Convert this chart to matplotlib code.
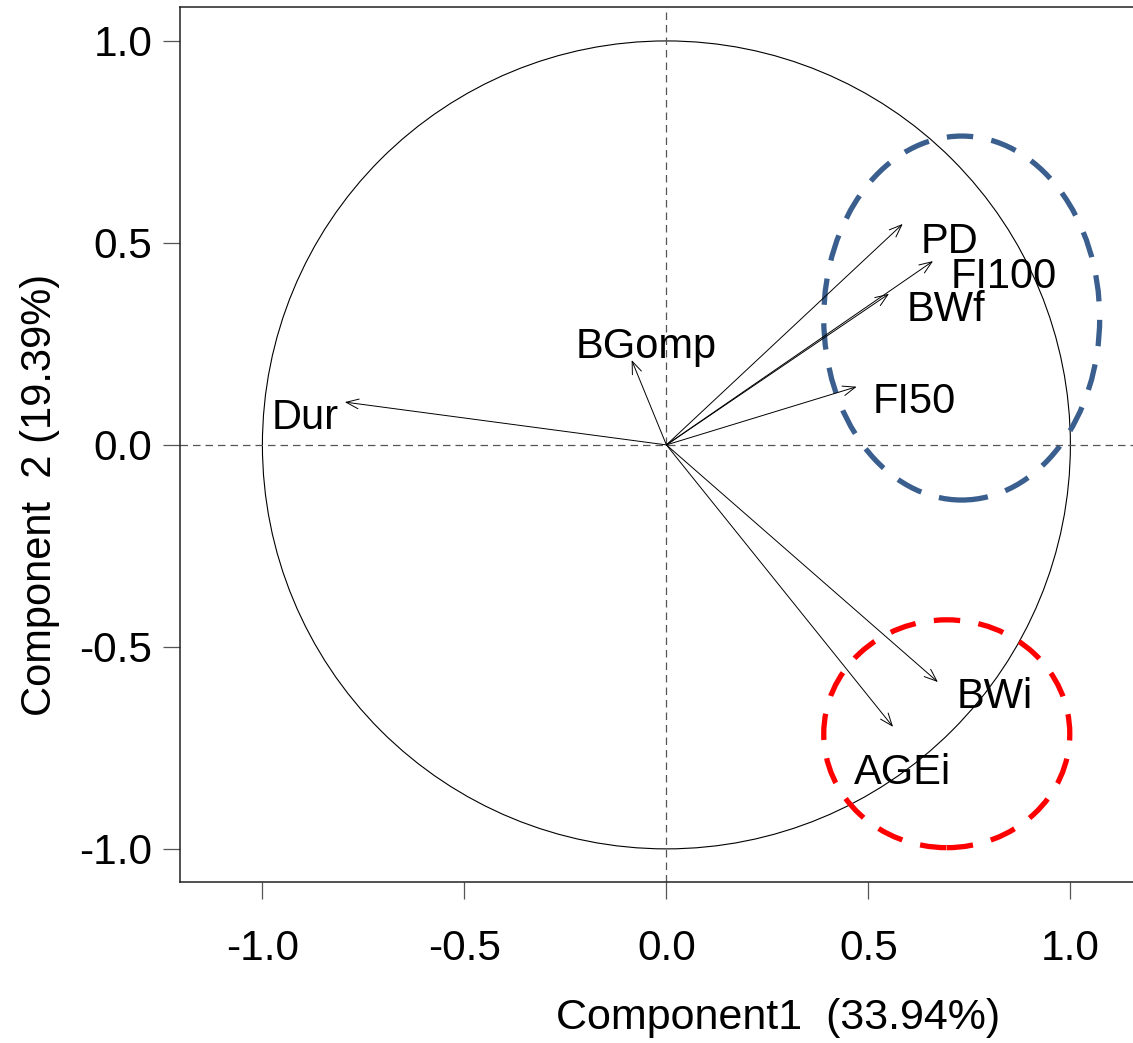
import numpy as np
import matplotlib
matplotlib.use("Agg")
import matplotlib.pyplot as plt
from matplotlib.patches import Ellipse, Circle

plt.rcParams['font.family'] = ['Liberation Sans', 'DejaVu Sans']

# ---- data ----
variables = ["Dur", "BGomp", "PD", "FI100", "BWf", "FI50", "BWi", "AGEi"]
comp1 = [-0.796, -0.086, 0.585, 0.660, 0.551, 0.471, 0.672, 0.561]
comp2 = [0.106, 0.210, 0.547, 0.455, 0.374, 0.144, -0.587, -0.698]
label_x = [-0.895, -0.051, 0.700, 0.834, 0.693, 0.614, 0.812, 0.584]
label_y = [0.067, 0.243, 0.502, 0.416, 0.334, 0.106, -0.624, -0.812]
ticks = [-1.0, -0.5, 0.0, 0.5, 1.0]
tick_labels = ["-1.0", "-0.5", "0.0", "0.5", "1.0"]
xlabel = "Component1  (33.94%)"
ylabel = "Component  2 (19.39%)"
# group ellipses: centre x, centre y, width, height
blue_group = (0.731, 0.314, 0.683, 0.901)
red_group = (0.694, -0.715, 0.609, 0.564)

W, H = 1133, 1043
fig = plt.figure(figsize=(W / 100, H / 100), dpi=100)
x0, x1 = -1.204, 1.155
y0, y1 = -1.082, 1.084
ax = fig.add_axes([180 / W, (H - 882) / H, (W - 180) / W, (882 - 7) / H])
ax.set_xlim(x0, x1)
ax.set_ylim(y0, y1)

for s in ['left', 'bottom', 'top']:
    ax.spines[s].set_color('#222222')
    ax.spines[s].set_linewidth(1.1)
ax.spines['right'].set_visible(False)

ax.set_xticks(ticks)
ax.set_xticklabels(tick_labels)
ax.set_yticks(ticks)
ax.set_yticklabels(tick_labels)
ax.tick_params(axis='both', direction='out', length=12, width=0.9, color='#555555',
               labelsize=30.5)
ax.tick_params(axis='x', pad=22)
ax.tick_params(axis='y', pad=8)

# reference lines
ax.axhline(0, color='#555555', lw=0.9, ls=(0, (6, 4)))
ax.axvline(0, color='#555555', lw=0.9, ls=(0, (6, 4)))

# unit circle
ax.add_patch(Circle((0, 0), 1.0, fill=False, ec='black', lw=0.8))

# arrows and labels
for name, cx, cy, lx, ly in zip(variables, comp1, comp2, label_x, label_y):
    ax.annotate("", xy=(cx, cy), xytext=(0, 0),
                arrowprops=dict(arrowstyle='->,head_length=0.9,head_width=0.35',
                                color='black', lw=0.7, shrinkA=0, shrinkB=0))
    ax.text(lx, ly, name, fontsize=30, ha='center', va='center')

# group ellipses
bx, by, bw, bh = blue_group
ax.add_patch(Ellipse((bx, by), bw, bh, fill=False, ec='#3A5F8E', lw=3.8,
                     ls=(0, (5, 3.5))))
rx, ry, rw, rh = red_group
ax.add_patch(Ellipse((rx, ry), rw, rh, fill=False, ec='#FF0000', lw=3.8,
                     ls=(0, (5, 3.5))))

fig.text(778 / W, 1 - 1018 / H, xlabel, fontsize=31, ha='center', va='center')
fig.text(40 / W, 1 - 495 / H, ylabel, fontsize=30, ha='center', va='center',
         rotation=90)

fig.savefig("out.png", dpi=100)
